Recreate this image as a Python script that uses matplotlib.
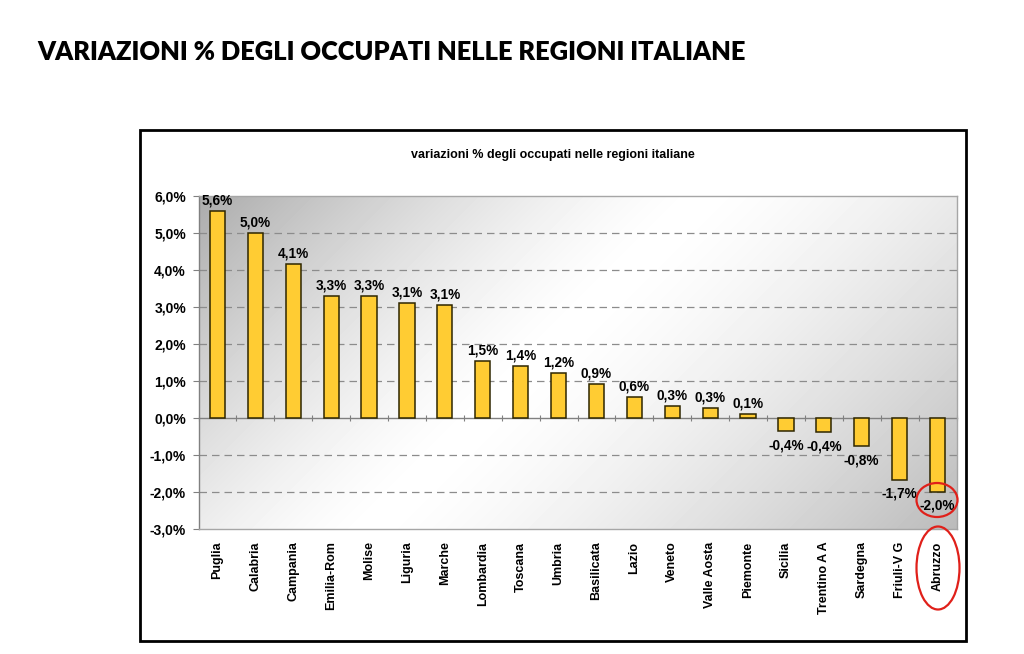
import numpy as np
import matplotlib
matplotlib.use("Agg")
import matplotlib.pyplot as plt
from matplotlib.patches import Ellipse, Rectangle

regions = ["Puglia", "Calabria", "Campania", "Emilia-Rom", "Molise", "Liguria",
           "Marche", "Lombardia", "Toscana", "Umbria", "Basilicata", "Lazio",
           "Veneto", "Valle Aosta", "Piemonte", "Sicilia", "Trentino A A",
           "Sardegna", "Friuli-V G", "Abruzzo"]
values = [5.6, 5.0, 4.15, 3.3, 3.3, 3.12, 3.06, 1.53, 1.40, 1.21, 0.93, 0.56,
          0.32, 0.28, 0.12, -0.36, -0.38, -0.76, -1.67, -2.0]
labels = ["5,6%", "5,0%", "4,1%", "3,3%", "3,3%", "3,1%", "3,1%", "1,5%", "1,4%",
          "1,2%", "0,9%", "0,6%", "0,3%", "0,3%", "0,1%", "-0,4%", "-0,4%",
          "-0,8%", "-1,7%", "-2,0%"]
yticks = [-3, -2, -1, 0, 1, 2, 3, 4, 5, 6]
ytick_labels = ["-3,0%", "-2,0%", "-1,0%", "0,0%", "1,0%", "2,0%", "3,0%",
                "4,0%", "5,0%", "6,0%"]

W, H = 1024, 654
fig = plt.figure(figsize=(W / 100, H / 100), dpi=100)
fig.patch.set_facecolor("white")

font = "Liberation Sans"

# main title
fig.text(37 / W, 1 - 52 / H, "VARIAZIONI % DEGLI OCCUPATI NELLE REGIONI ITALIANE",
         family="Lato", weight="heavy", fontsize=18.4, ha="left", va="center")

# chart frame
frame = Rectangle((139.5 / W, 1 - 641 / H), (965.7 - 139.5) / W, (641 - 130) / H,
                  transform=fig.transFigure, fill=False, edgecolor="black",
                  linewidth=2.0, zorder=1)
fig.patches.append(frame)

fig.text(553 / W, 1 - 155 / H, "variazioni % degli occupati nelle regioni italiane",
         family=font, weight="bold", fontsize=9, ha="center", va="center")

ax_l, ax_r, ax_t, ax_b = 198.5, 956.5, 196, 529
ax = fig.add_axes([ax_l / W, 1 - ax_b / H, (ax_r - ax_l) / W, (ax_b - ax_t) / H])

# gradient background
pw, ph = int(ax_r - ax_l), int(ax_b - ax_t)
xs = np.arange(pw)[None, :]
ys = np.arange(ph)[:, None]
s = (xs + ys) / (pw + ph)
c = 0.46
d = s - c
g = np.where(d < 0, 1 - 0.33 * (np.abs(d) / c) ** 1.4,
             1 - 0.27 * (np.abs(d) / (1 - c)) ** 1.4)
ax.imshow(g, extent=[0, 1, 0, 1], transform=ax.transAxes, aspect="auto",
          cmap="gray", vmin=0, vmax=1, zorder=0, interpolation="bilinear")

x = np.arange(len(regions))
ax.bar(x, values, width=0.4, color="#FFCC33", edgecolor="#2e2600",
       linewidth=1.1, zorder=3)

for xi, v, lab in zip(x, values, labels):
    if v >= 0:
        ax.annotate(lab, (xi, v), xytext=(0, 2.5), textcoords="offset points",
                    ha="center", va="bottom", family=font, weight="bold",
                    fontsize=9.8, zorder=5)
    else:
        ax.annotate(lab, (xi, v), xytext=(0, -5), textcoords="offset points",
                    ha="center", va="top", family=font, weight="bold",
                    fontsize=9.8, zorder=5)

ax.set_xlim(-0.5, len(regions) - 0.5)
ax.set_ylim(-3, 6)

for gy in [-2, -1, 1, 2, 3, 4, 5]:
    ax.axhline(gy, color="#8c8c8c", linewidth=0.9, dashes=(6, 4), zorder=1)

ax.set_yticks(yticks)
ax.set_yticklabels(ytick_labels, family=font, weight="bold", fontsize=10)
ax.tick_params(axis="y", direction="out", length=4, width=0.8, color="#808080", pad=5)

ax.set_xticks(x)
ax.set_xticklabels(regions, rotation=90, family=font, weight="bold", fontsize=9,
                   va="top", ha="center")
ax.tick_params(axis="x", length=0, pad=9)

for side in ["top", "right", "bottom"]:
    ax.spines[side].set_color("#a6a6a6")
    ax.spines[side].set_linewidth(1.0)
ax.spines["left"].set_color("#808080")
ax.spines["left"].set_linewidth(1.0)

# category axis crossing at zero
sec = ax.secondary_xaxis(3 / 9)
sec.set_xticks(np.arange(len(regions) + 1) - 0.5)
sec.set_xticklabels([])
sec.tick_params(direction="inout", length=5, width=0.8, color="#808080")
sec.spines["bottom"].set_color("#808080")
sec.spines["bottom"].set_linewidth(1.0)

# red highlight ellipses
for cx, cy, ew, eh in [(937, 500, 41, 34), (938, 568, 43, 83)]:
    e = Ellipse((cx / W, 1 - cy / H), ew / W, eh / H, transform=fig.transFigure,
                fill=False, edgecolor="#e0201a", linewidth=1.6, zorder=10)
    fig.patches.append(e)

fig.savefig("out.png", dpi=100)
